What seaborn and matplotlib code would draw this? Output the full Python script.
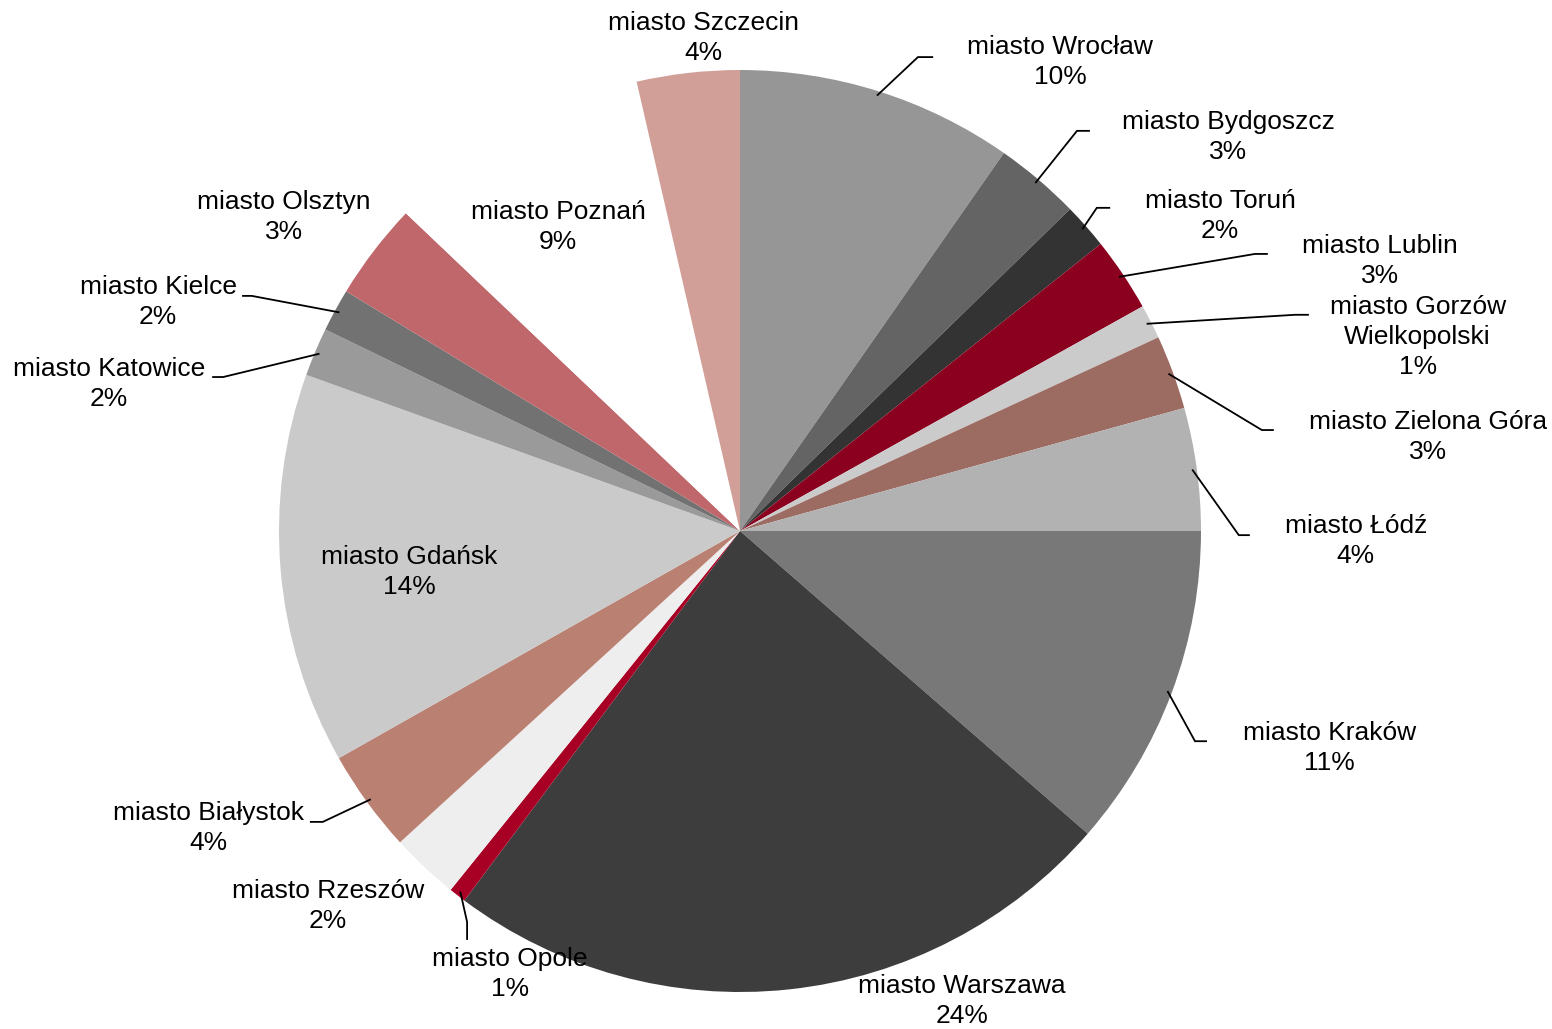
import numpy as np
import matplotlib
matplotlib.use("Agg")
import matplotlib.pyplot as plt
import seaborn as sns

# ---- data ----
cities = ["miasto Wrocław", "miasto Bydgoszcz", "miasto Toruń", "miasto Lublin",
          "miasto Gorzów\nWielkopolski", "miasto Zielona Góra", "miasto Łódź",
          "miasto Kraków", "miasto Warszawa", "miasto Opole", "miasto Rzeszów",
          "miasto Białystok", "miasto Gdańsk", "miasto Katowice", "miasto Kielce",
          "miasto Olsztyn", "miasto Poznań", "miasto Szczecin"]
shares = [9.7, 3.0, 1.6, 2.6, 1.2, 2.6, 4.3, 11.4, 23.8, 0.6, 2.4,
          3.6, 13.7, 1.7, 1.5, 3.4, 9.3, 3.6]
colors = ["#969696", "#646464", "#333333", "#8b001e", "#cbcbcb", "#9c6b62",
          "#b2b2b2", "#787878", "#3d3d3d", "#a80024", "#eeeeee", "#ba8173",
          "#cacaca", "#9a9a9a", "#727272", "#c0676b", "#ffffff", "#d19f97"]

# ---- layout (pie units, radius = 1) ----
label_pos = [(0.694, 1.017), (1.059, 0.855), (1.041, 0.683), (1.388, 0.586),
             (1.470, 0.421), (1.492, 0.204), (1.336, -0.022), (1.278, -0.471),
             (0.482, -1.020), (-0.499, -0.960), (-0.894, -0.813), (-1.154, -0.644),
             (-0.718, -0.089), (-1.369, 0.319), (-1.262, 0.497), (-0.989, 0.681),
             (-0.395, 0.659), (-0.080, 1.069)]
# leader: (elbow, end) or None
leaders = [((0.386, 1.028), (0.419, 1.028)),
           ((0.731, 0.868), (0.759, 0.868)),
           ((0.774, 0.701), (0.803, 0.701)),
           ((1.117, 0.601), (1.145, 0.601)),
           ((1.204, 0.469), (1.234, 0.469)),
           ((1.132, 0.219), (1.158, 0.219)),
           ((1.082, -0.009), (1.106, -0.009)),
           ((0.987, -0.456), (1.013, -0.456)),
           None,
           ((-0.592, -0.848), (-0.592, -0.887)),
           None,
           ((-0.905, -0.631), (-0.933, -0.631)),
           None,
           ((-1.121, 0.334), (-1.145, 0.334)),
           ((-1.059, 0.510), (-1.080, 0.510)),
           None, None, None]

sns.set_theme(style="white")
plt.rcParams['font.family'] = ['Liberation Sans', 'DejaVu Sans']

fig = plt.figure(figsize=(15.52, 10.29), dpi=100)
ax = fig.add_axes([0, 0, 1, 1])

wedges, _ = ax.pie(shares, colors=colors, startangle=90, counterclock=False,
                   radius=1.0, center=(0, 0),
                   wedgeprops=dict(linewidth=0, antialiased=True))

ax.set_xlim(-740 / 461, (1552 - 740) / 461)
ax.set_ylim(-(1029 - 531) / 461, 531 / 461)
ax.set_aspect('equal', adjustable='datalim')
ax.axis('off')

total = sum(shares)
for w, name, val, pos, ld in zip(wedges, cities, shares, label_pos, leaders):
    pct = 100 * val / total
    ax.text(pos[0], pos[1], f"{name}\n{pct:.0f}%", ha='center', va='center',
            fontsize=19, color='black', linespacing=1.32, multialignment='center')
    if ld is not None:
        mid = np.deg2rad((w.theta1 + w.theta2) / 2)
        sx, sy = np.cos(mid) * 0.99, np.sin(mid) * 0.99
        (ex, ey), (hx, hy) = ld
        ax.plot([sx, ex, hx], [sy, ey, hy], color='black', lw=1.3,
                solid_capstyle='butt', solid_joinstyle='miter')

fig.savefig("out.png", dpi=100, facecolor='white')
